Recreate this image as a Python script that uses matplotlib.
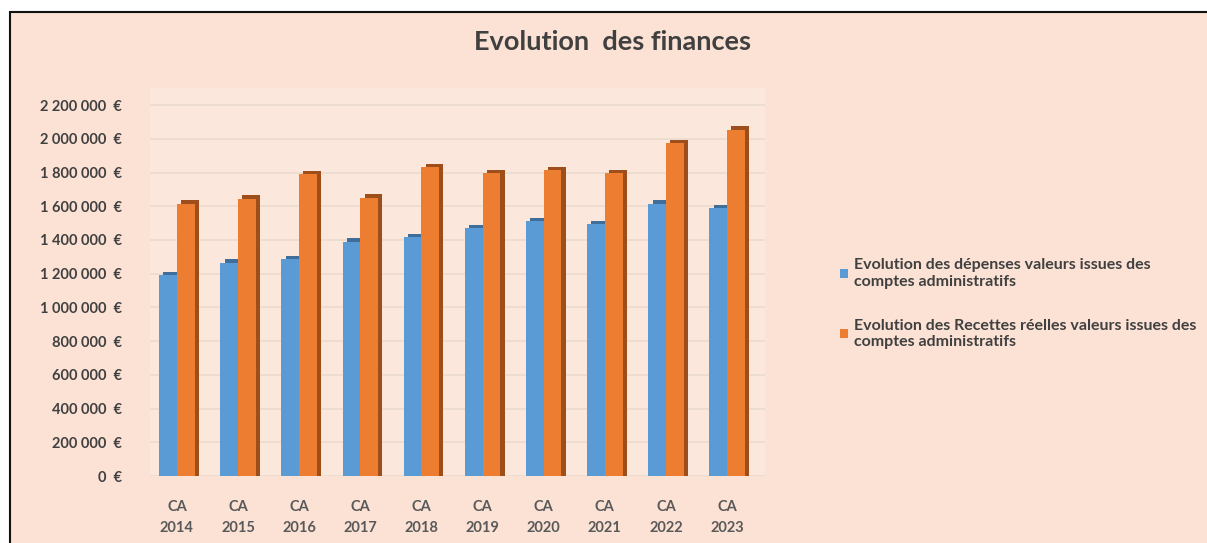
import numpy as np
import matplotlib
matplotlib.use("Agg")
import matplotlib.pyplot as plt
from matplotlib.patches import Rectangle

plt.rcParams['font.family'] = ['Lato', 'DejaVu Sans']

categories = ["CA\n2014", "CA\n2015", "CA\n2016", "CA\n2017", "CA\n2018",
              "CA\n2019", "CA\n2020", "CA\n2021", "CA\n2022", "CA\n2023"]
depenses = [1190000, 1265000, 1285000, 1390000, 1415000,
            1470000, 1510000, 1495000, 1615000, 1590000]
recettes = [1615000, 1645000, 1790000, 1650000, 1830000,
            1795000, 1815000, 1795000, 1975000, 2055000]
yticks = [0, 200000, 400000, 600000, 800000, 1000000, 1200000,
          1400000, 1600000, 1800000, 2000000, 2200000]
label_dep = "Evolution des dépenses valeurs issues des\ncomptes administratifs"
label_rec = "Evolution des Recettes réelles valeurs issues des\ncomptes administratifs"

W, H = 1207, 543
fig = plt.figure(figsize=(W / 100, H / 100), dpi=100)
fig.patch.set_facecolor("white")

# chart area background with black border top/left (right and bottom run off the image)
bg = Rectangle((10 / W, -0.2), 1.2, 0.2 + (H - 12) / H, transform=fig.transFigure,
               facecolor="#FBE2D5", edgecolor="#111111", lw=1.5, zorder=-10)
fig.patches.append(bg)

ax = fig.add_axes([150 / W, (H - 476) / H, (765 - 150) / W, 2300000 * 168.6e-6 / H])
ax.set_facecolor("#FBE7DB")

x = np.arange(len(categories))
bw = 0.29
depth = 0.07
cap = 20000

# side / depth faces (darker), drawn behind the fronts
ax.bar(x - bw / 2 + depth, np.array(depenses) + cap, bw, color="#3F6E9A", zorder=2)
ax.bar(x + bw / 2 + depth, np.array(recettes) + cap, bw, color="#9E4E1B", zorder=2)
# front faces
ax.bar(x - bw / 2, depenses, bw, color="#5B9BD5", zorder=3, label=label_dep)
ax.bar(x + bw / 2, recettes, bw, color="#ED7D31", zorder=3, label=label_rec)

ax.set_xlim(-0.44, 9.62)
ax.set_ylim(0, 2300000)
ax.set_yticks(yticks)
ax.set_yticklabels([f"{v:,}".replace(",", " ") + "  €" for v in yticks])
ax.set_xticks(x)
ax.set_xticklabels(categories, fontweight="bold", fontsize=10.5, color="#595959",
                   linespacing=1.7)
ax.tick_params(axis="y", length=0, pad=20, labelsize=10.5, labelcolor="#404040")
ax.tick_params(axis="x", length=0, pad=17)
for lab in ax.get_yticklabels():
    lab.set_fontweight("bold")
for lab in ax.get_xticklabels():
    lab.set_fontweight("bold")
ax.grid(axis="y", color="#EBDBD0", lw=1.2, zorder=0)
for s in ax.spines.values():
    s.set_visible(False)

fig.text(613 / W, 1 - 42 / H, "Evolution  des finances", ha="center", va="center",
         fontsize=19.5, fontweight="bold", color="#404040")

fig.legend(loc="upper left", bbox_to_anchor=(826 / W, 1 - 244 / H), frameon=False,
           labelspacing=1.85, handlelength=0.5, handleheight=0.5,
           handletextpad=0.35, prop={"weight": "bold", "size": 11.5})
for t in fig.legends[0].get_texts():
    t.set_color("#404040")
    t.set_linespacing(1.25)

fig.savefig("out.png", dpi=100)
